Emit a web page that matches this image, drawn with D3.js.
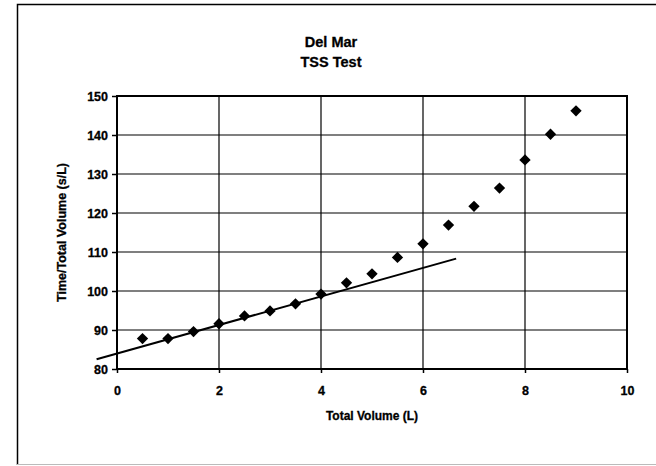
<!DOCTYPE html>
<html>
<head>
<meta charset="utf-8">
<script src="https://cdn.jsdelivr.net/npm/d3@7"></script>
<style>
  html, body { margin: 0; padding: 0; background: #fff; }
  svg { display: block; }
  text { font-family: "Liberation Sans", Arial, sans-serif; font-weight: bold; fill: #000; }
</style>
</head>
<body>
<svg id="chart" width="656" height="466"></svg>
<script>
// Measured volumes (L) and time/volume ratios (s/L)
const volume = [0.5, 1, 1.5, 2, 2.5, 3, 3.5, 4, 4.5, 5, 5.5, 6, 6.5, 7, 7.5, 8, 8.5, 9];
const ratio  = [87.8, 87.8, 89.6, 91.6, 93.6, 94.9, 96.7, 99.2, 102.1, 104.4, 108.6, 112.1, 116.9, 121.7, 126.4, 133.6, 140.2, 146.2];

// Linear trend line end points (x in L, y in s/L)
const trendX = [-0.4, 6.65];
const trendY = [82.5, 108.3];

const xTicks = [0, 2, 4, 6, 8, 10];
const yTicks = [80, 90, 100, 110, 120, 130, 140, 150];

const titleLines = ["Del Mar", "TSS Test"];
const xTitle = "Total Volume (L)";
const yTitle = "Time/Total Volume (s/L)";

const FONT = "'Liberation Sans', Arial, sans-serif";
const svg = d3.select("#chart");

// chart frame
svg.append("path")
  .attr("d", "M17.5,465 L17.5,4.5 L656,4.5")
  .attr("fill", "none").attr("stroke", "#000").attr("stroke-width", 1.5);
svg.append("line")
  .attr("x1", 17).attr("x2", 656).attr("y1", 464.5).attr("y2", 464.5)
  .attr("stroke", "#bbb").attr("stroke-width", 1);

const plot = { left: 117, right: 627, top: 96, bottom: 369 };

const x = d3.scaleLinear().domain([0, 10]).range([plot.left, plot.right]);
const y = d3.scaleLinear().domain([80, 150]).range([plot.bottom, plot.top]);

// gridlines
const grid = svg.append("g");
grid.selectAll("line.h").data(yTicks).join("line")
  .attr("x1", plot.left).attr("x2", plot.right)
  .attr("y1", d => y(d)).attr("y2", d => y(d))
  .attr("stroke", "#000").attr("stroke-width", 1.2);
grid.selectAll("line.v").data(xTicks).join("line")
  .attr("y1", plot.top).attr("y2", plot.bottom)
  .attr("x1", d => x(d)).attr("x2", d => x(d))
  .attr("stroke", "#000").attr("stroke-width", 1.2);

// plot border
svg.append("rect")
  .attr("x", plot.left).attr("y", plot.top)
  .attr("width", plot.right - plot.left).attr("height", plot.bottom - plot.top)
  .attr("fill", "none").attr("stroke", "#000").attr("stroke-width", 2);

// axes
const yAxis = d3.axisLeft(y).tickValues(yTicks).tickSize(5).tickPadding(4);
const xAxis = d3.axisBottom(x).tickValues(xTicks).tickSize(4).tickPadding(13);

const gy = svg.append("g").attr("transform", `translate(${plot.left},0)`).call(yAxis);
const gx = svg.append("g").attr("transform", `translate(0,${plot.bottom})`).call(xAxis);
[gy, gx].forEach(g => {
  g.select(".domain").remove();
  g.selectAll(".tick line").attr("stroke", "#000").attr("stroke-width", 1.5);
  g.selectAll(".tick text")
    .attr("font-family", FONT)
    .attr("font-weight", "bold").attr("font-size", 12.5).attr("fill", "#000")
    .attr("stroke", "#000").attr("stroke-width", 0.3);
});

// trend line
svg.append("line")
  .attr("x1", x(trendX[0])).attr("y1", y(trendY[0]))
  .attr("x2", x(trendX[1])).attr("y2", y(trendY[1]))
  .attr("stroke", "#000").attr("stroke-width", 2);

// data markers (diamonds)
const diamond = d3.symbol().type(d3.symbolSquare).size(64);
svg.append("g").selectAll("path").data(volume).join("path")
  .attr("d", diamond)
  .attr("transform", (d, i) => `translate(${x(d)},${y(ratio[i])}) rotate(45)`)
  .attr("fill", "#000");

// titles
svg.append("g").selectAll("text").data(titleLines).join("text")
  .attr("x", 331).attr("y", (d, i) => 47 + i * 20)
  .attr("text-anchor", "middle").attr("font-size", 14.5)
  .attr("stroke", "#000").attr("stroke-width", 0.3)
  .text(d => d);

svg.append("text")
  .attr("x", (plot.left + plot.right) / 2).attr("y", 420)
  .attr("text-anchor", "middle").attr("font-size", 12)
  .attr("stroke", "#000").attr("stroke-width", 0.3)
  .text(xTitle);

svg.append("text")
  .attr("transform", `translate(66,${(plot.top + plot.bottom) / 2}) rotate(-90)`)
  .attr("text-anchor", "middle").attr("font-size", 12.5)
  .attr("stroke", "#000").attr("stroke-width", 0.3)
  .text(yTitle);
</script>
</body>
</html>
